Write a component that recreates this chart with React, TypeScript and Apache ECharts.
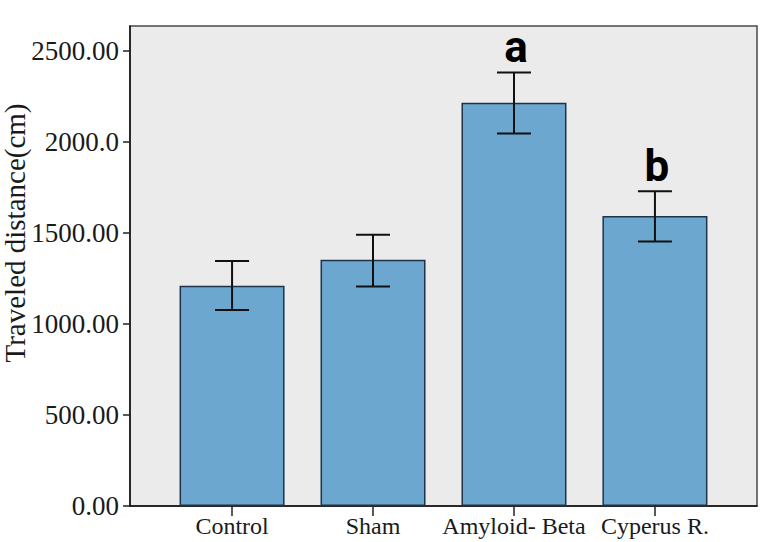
import React, { useEffect, useRef } from "react";
import * as echarts from "echarts";

const categories = ["Control", "Sham", "Amyloid- Beta", "Cyperus R."];
const means = [1209, 1352, 2214, 1592];
const errLow = [1077, 1205, 2046, 1453];
const errHigh = [1345, 1489, 2381, 1728];
const letters = ["", "", "a", "b"];
const yTickLabels = ["0.00", "500.00", "1000.00", "1500.00", "2000.0", "2500.00"];
const yTickValues = [0, 500, 1000, 1500, 2000, 2500];
const yTitle = "Traveled distance(cm)";

export default function App() {
  const ref = useRef<HTMLDivElement>(null);
  useEffect(() => {
    if (!ref.current) return;
    const chart = echarts.init(ref.current, null, { renderer: "svg" });
    const positions = categories.map((_, i) => i);
    const serif = "Liberation Serif";
    chart.setOption({
      animation: false,
      backgroundColor: "#ffffff",
      grid: {
        left: 130,
        top: 26,
        right: 16,
        bottom: 36,
        show: true,
        backgroundColor: "#ebebeb",
        borderColor: "#4a4a4a",
        borderWidth: 1.5,
      },
      xAxis: {
        type: "value",
        min: -0.724,
        max: 3.724,
        axisLine: { show: true, onZero: false, lineStyle: { color: "#111", width: 1.5 } },
        axisTick: { show: true, customValues: positions, length: 10, lineStyle: { color: "#222", width: 1.5 } },
        axisLabel: {
          customValues: positions,
          formatter: (v: number) => categories[Math.round(v)] ?? "",
          fontFamily: serif,
          fontSize: 24,
          color: "#1a1a1a",
          margin: 8,
        },
        splitLine: { show: false },
      },
      yAxis: {
        type: "value",
        min: 0,
        max: 2636,
        axisLine: { show: true, onZero: false, lineStyle: { color: "#111", width: 1.5 } },
        axisTick: { show: true, customValues: yTickValues, length: 7, lineStyle: { color: "#222", width: 1.5 } },
        axisLabel: {
          customValues: yTickValues,
          formatter: (v: number) => yTickLabels[yTickValues.indexOf(Math.round(v))] ?? "",
          fontFamily: serif,
          fontSize: 27,
          color: "#1a1a1a",
          margin: 11,
        },
        splitLine: { show: false },
      },
      graphic: [
        {
          type: "text",
          x: 15,
          y: 233,
          rotation: Math.PI / 2,
          style: {
            text: yTitle,
            fontFamily: serif,
            fontSize: 29,
            fill: "#1a1a1a",
            align: "center",
            verticalAlign: "middle",
          },
        },
      ],
      series: [
        {
          type: "bar",
          data: means.map((m, i) => [i, m]),
          barWidth: 105,
          itemStyle: { color: "#6ca7cf", borderColor: "#1e3347", borderWidth: 1.5 },
        },
        {
          type: "custom",
          data: means.map((_, i) => [i, errLow[i], errHigh[i]]),
          clip: false,
          z: 5,
          renderItem: (params: any, api: any) => {
            const i = params.dataIndex;
            const x = api.value(0);
            const top = api.coord([x, api.value(2)]);
            const bot = api.coord([x, api.value(1)]);
            const hw = 17;
            const st = { stroke: "#111", lineWidth: 2 };
            const children: any[] = [
              { type: "line", shape: { x1: top[0], y1: top[1], x2: bot[0], y2: bot[1] }, style: st },
              { type: "line", shape: { x1: top[0] - hw, y1: top[1], x2: top[0] + hw, y2: top[1] }, style: st },
              { type: "line", shape: { x1: bot[0] - hw, y1: bot[1], x2: bot[0] + hw, y2: bot[1] }, style: st },
            ];
            if (letters[i]) {
              children.push({
                type: "text",
                x: top[0] + 2,
                y: top[1] - 3,
                style: {
                  text: letters[i],
                  fontFamily: "Roboto",
                  fontWeight: "bold",
                  fontSize: 44,
                  fill: "#000",
                  align: "center",
                  verticalAlign: "bottom",
                },
              });
            }
            return { type: "group", children };
          },
        },
      ],
    });
    return () => chart.dispose();
  }, []);
  return (
    <div
      ref={ref}
      style={{ position: "fixed", left: 0, top: 0, width: 773, height: 542 }}
    />
  );
}
